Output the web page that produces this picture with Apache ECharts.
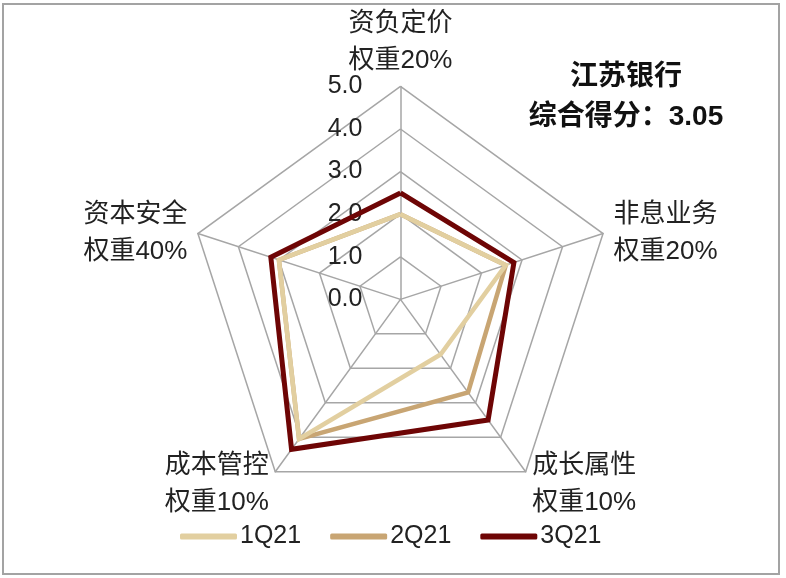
<!DOCTYPE html>
<html>
<head>
<meta charset="utf-8">
<title>江苏银行 综合得分</title>
<script src="https://cdn.jsdelivr.net/npm/echarts@6/dist/echarts.min.js"></script>
<style>
  html, body { margin: 0; padding: 0; background: #fff; }
  #main { width: 786px; height: 578px; }
</style>
</head>
<body>
<div id="main"></div>
<script>
// 指标（ECharts 雷达从顶部开始逆时针排列）
var indicators = ['资负定价\n权重20%', '资本安全\n权重40%', '成本管控\n权重10%', '成长属性\n权重10%', '非息业务\n权重20%'];
var seriesNames = ['1Q21', '2Q21', '3Q21'];
var q1 = [2.0, 3.0, 4.05, 1.6, 2.6];
var q2 = [2.0, 3.0, 4.05, 2.7, 2.6];
var q3 = [2.5, 3.2, 4.35, 3.5, 2.8];
var maxValue = 5;
var titleLines = ['江苏银行', '综合得分：3.05'];

var colors = ['#e2cfa0', '#c8a573', '#6e0505'];
var fontCn = '"Liberation Sans", Arial, "Noto Sans CJK SC", sans-serif';

var myChart = echarts.init(document.getElementById('main'));

var indicatorList = indicators.map(function (name, i) {
    var item = { name: name, min: 0, max: maxValue };
    // 只在第一根轴上显示刻度
    item.axisLabel = i === 0 ? {
        show: true,
        margin: 38,
        color: '#222',
        fontSize: 25,
        fontFamily: fontCn,
        formatter: function (v) { return Number(v).toFixed(1); }
    } : { show: false };
    return item;
});

// 每个轴名的两行用不同行高微调上下位置
var nameShift = {};
nameShift[indicators[0]] = ['t1', 't2'];
nameShift[indicators[1]] = ['s1', 's2'];
nameShift[indicators[4]] = ['s1', 's2'];
nameShift[indicators[2]] = ['b1', 'b2'];
nameShift[indicators[3]] = ['b1', 'b2'];

function rs(lh) {
    return { color: '#222', fontSize: 26, fontFamily: fontCn, lineHeight: lh };
}

function makeSeries(name, data, color, width, z) {
    return {
        name: name,
        type: 'radar',
        z: z,
        symbol: 'none',
        lineStyle: { color: color, width: width, join: 'miter' },
        itemStyle: { color: color },
        data: [{ name: name, value: data }]
    };
}

myChart.setOption({
    animation: false,
    backgroundColor: '#fff',
    graphic: [{
        type: 'rect',
        shape: { x: 3, y: 4, width: 776, height: 570 },
        style: { fill: 'none', stroke: '#a3a3a3', lineWidth: 2 },
        silent: true
    }, {
        type: 'text',
        x: 626, y: 77,
        style: { text: titleLines[0], align: 'center', verticalAlign: 'middle', fill: '#111', font: 'bold 28px ' + fontCn }
    }, {
        type: 'text',
        x: 626, y: 117,
        style: { text: titleLines[1], align: 'center', verticalAlign: 'middle', fill: '#111', font: 'bold 28px ' + fontCn }
    }],
    legend: {
        left: 175,
        top: 519,
        itemWidth: 57,
        itemHeight: 6,
        itemGap: 29,
        icon: 'roundRect',
        data: seriesNames,
        textStyle: { color: '#222', fontSize: 25, fontFamily: fontCn, padding: [0, 0, 0, -2] }
    },
    radar: {
        center: ['50.95%', '51.8%'],
        radius: 213,
        startAngle: 90,
        shape: 'polygon',
        splitNumber: 5,
        nameGap: 11,
        axisName: {
            color: '#222',
            fontSize: 26,
            fontFamily: fontCn,
            lineHeight: 37,
            formatter: function (name) {
                var k = nameShift[name];
                var parts = name.split('\n');
                return '{' + k[0] + '|' + parts[0] + '}\n{' + k[1] + '|' + parts[1] + '}';
            },
            rich: {
                t1: rs(51), t2: rs(23),
                s1: rs(43), s2: rs(31),
                b1: rs(45), b2: rs(29)
            }
        },
        axisLine: { lineStyle: { color: '#a6a6a6', width: 1.5 } },
        splitLine: { lineStyle: { color: '#a6a6a6', width: 1.5 } },
        splitArea: { show: false },
        axisTick: { show: false },
        indicator: indicatorList
    },
    series: [
        makeSeries(seriesNames[2], q3, colors[2], 5, 2),
        makeSeries(seriesNames[1], q2, colors[1], 4.5, 3),
        makeSeries(seriesNames[0], q1, colors[0], 4.5, 4)
    ]
});
</script>
</body>
</html>
